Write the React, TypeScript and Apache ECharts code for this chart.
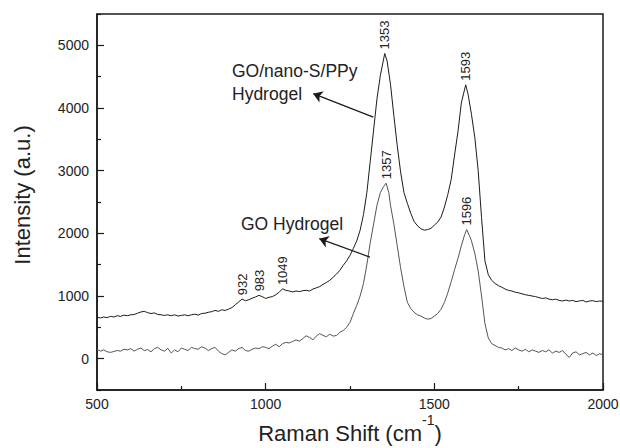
import React, { useEffect, useRef } from "react";
import * as echarts from "echarts";

// GO/nano-S/PPy Hydrogel spectrum
const compositeShift = [
  500, 510, 520, 530, 540, 550, 560, 570, 580, 590, 600, 610, 620, 630, 640, 650, 660, 670, 680, 690,
  700, 710, 720, 730, 740, 750, 760, 770, 780, 790, 800, 810, 820, 830, 840, 850, 860, 870, 880, 890,
  900, 910, 920, 930, 940, 950, 960, 970, 980, 990, 1000, 1010, 1020, 1030, 1040, 1050, 1060, 1070, 1080, 1090,
  1100, 1110, 1120, 1130, 1140, 1150, 1160, 1170, 1180, 1190, 1200, 1210, 1220, 1230, 1240, 1250, 1260, 1270, 1280, 1290,
  1300, 1310, 1320, 1330, 1340, 1353, 1360, 1370, 1380, 1390, 1400, 1410, 1420, 1430, 1440, 1450, 1460, 1470, 1480, 1490,
  1500, 1510, 1520, 1530, 1540, 1550, 1560, 1570, 1580, 1593, 1600, 1610, 1620, 1630, 1640, 1650, 1660, 1670, 1680, 1690,
  1700, 1710, 1720, 1730, 1740, 1750, 1760, 1770, 1780, 1790, 1800, 1810, 1820, 1830, 1840, 1850, 1860, 1870, 1880, 1890,
  1900, 1910, 1920, 1930, 1940, 1950, 1960, 1970, 1980, 1990, 2000,
];
const compositeIntensity = [
  660, 650, 665, 655, 675, 665, 685, 675, 695, 685, 700, 705, 725, 745, 755, 735, 720, 730, 705, 700,
  690, 700, 685, 700, 680, 690, 700, 685, 700, 710, 695, 720, 725, 740, 750, 770, 755, 780, 770, 790,
  815, 860, 905, 950, 925, 940, 965, 985, 1010, 990, 960, 980, 990, 1020, 1060, 1115, 1090, 1080, 1065, 1080,
  1070, 1085, 1090, 1080, 1110, 1130, 1150, 1185, 1215, 1250, 1300, 1350, 1410, 1490, 1560, 1650, 1760, 1880, 2050, 2300,
  2650, 3150, 3650, 4150, 4520, 4870, 4750, 4380, 3880, 3400, 2980, 2650, 2480, 2320, 2190, 2120, 2075, 2050, 2060, 2080,
  2130, 2180, 2260, 2420, 2620, 2860, 3250, 3620, 4080, 4370, 4220, 3900, 3530, 3000, 2250, 1560, 1340, 1250, 1200, 1165,
  1140, 1110, 1090, 1080, 1060, 1050, 1035, 1020, 1010, 1000, 990, 975, 960, 970, 950, 940, 950, 930, 920, 935,
  920, 930, 910, 920, 930, 905, 920, 925, 910, 920, 915,
];

// GO Hydrogel spectrum
const goShift = [
  500, 510, 520, 530, 540, 550, 560, 570, 580, 590, 600, 610, 620, 630, 640, 650, 660, 670, 680, 690,
  700, 710, 720, 730, 740, 750, 760, 770, 780, 790, 800, 810, 820, 830, 840, 850, 860, 870, 880, 890,
  900, 910, 920, 930, 940, 950, 960, 970, 980, 990, 1000, 1010, 1020, 1030, 1040, 1050, 1060, 1070, 1080, 1090,
  1100, 1110, 1120, 1130, 1140, 1150, 1160, 1170, 1180, 1190, 1200, 1210, 1220, 1230, 1240, 1250, 1260, 1270, 1280, 1290,
  1300, 1310, 1320, 1330, 1340, 1350, 1357, 1365, 1370, 1380, 1390, 1400, 1410, 1420, 1430, 1440, 1450, 1460, 1470, 1480,
  1490, 1500, 1510, 1520, 1530, 1540, 1550, 1560, 1570, 1580, 1590, 1596, 1605, 1610, 1620, 1630, 1640, 1650, 1660, 1670,
  1680, 1690, 1700, 1710, 1720, 1730, 1740, 1750, 1760, 1770, 1780, 1790, 1800, 1810, 1820, 1830, 1840, 1850, 1860, 1870,
  1880, 1890, 1900, 1910, 1920, 1930, 1940, 1950, 1960, 1970, 1980, 1990, 2000,
];
const goIntensity = [
  150, 120, 140, 110, 100, 115, 130, 120, 150, 140, 160, 120, 150, 170, 130, 145, 110, 160, 180, 140,
  120, 165, 90, 140, 110, 170, 150, 130, 180, 160, 150, 190, 170, 130, 160, 180, 120, 80, 60, 100,
  140, 120, 160, 180, 130, 120, 150, 170, 160, 190, 180, 160, 200, 230, 190, 240, 260, 250, 275, 300,
  280, 320, 365, 340, 300, 360, 400, 370, 350, 390, 360, 370, 420, 450, 500, 580, 720, 850, 1000, 1200,
  1500, 1850, 2150, 2450, 2650, 2750, 2800, 2650, 2450, 2150, 1800, 1450, 1150, 900, 800, 740, 700, 680, 650, 630,
  640, 680, 720, 790, 900, 1050, 1230, 1420, 1600, 1800, 1980, 2060, 1950, 1880, 1680, 1400, 1000, 560, 330, 240,
  210, 180, 170, 140, 160, 130, 170, 140, 120, 150, 110, 140, 120, 100, 130, 110, 140, 90, 120, 100,
  130, 70, 20, 90, 110, 60, 80, 100, 60, 90, 50, 80, 60,
];

// Peak annotations
const peakShift = [932, 983, 1049, 1353, 1593, 1357, 1596];
const peakIntensity = [950, 1010, 1110, 4870, 4370, 2800, 2060];
const peakText = ["932", "983", "1049", "1353", "1593", "1357", "1596"];

// Axis ticks
const xTicks = [500, 1000, 1500, 2000];
const yTickLabels = [0, 1000, 2000, 3000, 4000, 5000];

const FONT = "'Liberation Sans', Arial, Helvetica, sans-serif";
const INK = "#1a1a1a";

function pairs(xs: number[], ys: number[]) {
  return xs.map((x, i) => [x, ys[i]]);
}

export default function App() {
  const ref = useRef<HTMLDivElement>(null);
  useEffect(() => {
    if (!ref.current) return;
    const chart = echarts.init(ref.current, undefined, { renderer: "svg" });
    const gridTop = 14;
    const gridBottom = 58;
    const plotH = 448 - gridTop - gridBottom;
    const pxPerUnit = plotH / 6000;
    const plain = (v: number) => String(v);
    const option: any = {
      animation: false,
      backgroundColor: "#fff",
      grid: [
        {
          left: 97,
          right: 17,
          top: gridTop,
          bottom: gridBottom,
          containLabel: false,
          outerBoundsMode: "none",
          show: true,
          borderColor: INK,
          borderWidth: 1.5,
          backgroundColor: "transparent",
        },
        {
          left: 97,
          right: 17,
          top: gridTop + 500 * pxPerUnit,
          bottom: gridBottom + 500 * pxPerUnit,
          containLabel: false,
          outerBoundsMode: "none",
          show: false,
        },
      ],
      xAxis: [
        {
          type: "value",
          gridIndex: 0,
          min: xTicks[0],
          max: xTicks[xTicks.length - 1],
          interval: 500,
          axisLine: { show: true, onZero: false, lineStyle: { color: INK, width: 1.5 } },
          axisTick: { show: true, inside: true, length: 7, lineStyle: { color: INK, width: 1.2 } },
          minorTick: { show: true, splitNumber: 2, length: 4, lineStyle: { color: INK, width: 1.2 } },
          splitLine: { show: false },
          axisLabel: { color: "#222", fontSize: 14, fontFamily: FONT, margin: 7, formatter: plain },
          name: "{a|Raman Shift (cm}{s|-1}{a|)}",
          nameLocation: "middle",
          nameGap: 21,
          nameMoveOverlap: false,
          nameTextStyle: {
            rich: {
              a: { fontSize: 22, fontFamily: FONT, color: "#222", lineHeight: 33, verticalAlign: "bottom" },
              s: {
                fontSize: 14,
                fontFamily: FONT,
                color: "#222",
                lineHeight: 14,
                verticalAlign: "top",
                padding: [2, 0, 0, 0],
              },
            },
          },
        },
        {
          type: "value",
          gridIndex: 1,
          min: 500,
          max: 2000,
          show: false,
          axisLine: { onZero: false },
        },
      ],
      yAxis: [
        {
          type: "value",
          gridIndex: 0,
          min: -500,
          max: 5500,
          interval: 1000,
          axisLine: { show: true, onZero: false, lineStyle: { color: INK, width: 1.5 } },
          axisTick: { show: true, inside: true, length: 4, lineStyle: { color: INK, width: 1.2 } },
          axisLabel: { show: false },
          splitLine: { show: false },
          name: "Intensity (a.u.)",
          nameLocation: "middle",
          nameRotate: 90,
          nameGap: 64,
          nameMoveOverlap: false,
          nameTextStyle: { fontSize: 22, fontFamily: FONT, color: "#222", padding: [0, 0, 0, 14] },
        },
        {
          type: "value",
          gridIndex: 1,
          min: yTickLabels[0],
          max: yTickLabels[yTickLabels.length - 1],
          interval: 1000,
          axisLine: { show: false, onZero: false },
          axisTick: { show: true, inside: true, length: 7, lineStyle: { color: INK, width: 1.2 } },
          axisLabel: { color: "#222", fontSize: 14, fontFamily: FONT, margin: 8, formatter: plain },
          splitLine: { show: false },
        },
      ],
      series: [
        {
          name: "GO/nano-S/PPy Hydrogel",
          type: "line",
          xAxisIndex: 0,
          yAxisIndex: 0,
          data: pairs(compositeShift, compositeIntensity),
          showSymbol: false,
          symbol: "none",
          lineStyle: { color: "#1c1c1c", width: 1 },
          markLine: {
            silent: true,
            symbol: ["none", "arrow"],
            symbolSize: 9,
            label: { show: false },
            lineStyle: { color: INK, width: 1.2, type: "solid" },
            data: [[{ coord: [1319, 3855] }, { coord: [1141, 4229] }]],
          },
        },
        {
          name: "GO Hydrogel",
          type: "line",
          xAxisIndex: 0,
          yAxisIndex: 0,
          data: pairs(goShift, goIntensity),
          showSymbol: false,
          symbol: "none",
          lineStyle: { color: "#555", width: 1 },
          markLine: {
            silent: true,
            symbol: ["none", "arrow"],
            symbolSize: 9,
            label: { show: false },
            lineStyle: { color: INK, width: 1.2, type: "solid" },
            data: [[{ coord: [1309, 1621] }, { coord: [1159, 1915] }]],
          },
        },
      ],
    };
    chart.setOption(option);

    const graphics: any[] = [
      {
        type: "text",
        x: 232,
        y: 59,
        style: {
          text: "GO/nano-S/PPy\nHydrogel",
          fontSize: 17.5,
          lineHeight: 23,
          fontFamily: FONT,
          fill: "#222",
          align: "left",
          verticalAlign: "top",
        },
      },
      {
        type: "text",
        x: 241,
        y: 212,
        style: {
          text: "GO Hydrogel",
          fontSize: 17.5,
          lineHeight: 23,
          fontFamily: FONT,
          fill: "#222",
          align: "left",
          verticalAlign: "top",
        },
      },
    ];
    peakShift.forEach((s, i) => {
      const p = chart.convertToPixel({ gridIndex: 0 }, [s, peakIntensity[i]]) as number[];
      graphics.push({
        type: "text",
        x: p[0],
        y: p[1] - 4,
        rotation: Math.PI / 2,
        style: {
          text: peakText[i],
          fontSize: 13,
          fontFamily: FONT,
          fill: "#222",
          align: "left",
          verticalAlign: "middle",
        },
      });
    });
    chart.setOption({ graphic: graphics });

    return () => chart.dispose();
  }, []);
  return (
    <div
      ref={ref}
      style={{ position: "absolute", left: 0, top: 0, width: 620, height: 448, background: "#fff" }}
    />
  );
}
